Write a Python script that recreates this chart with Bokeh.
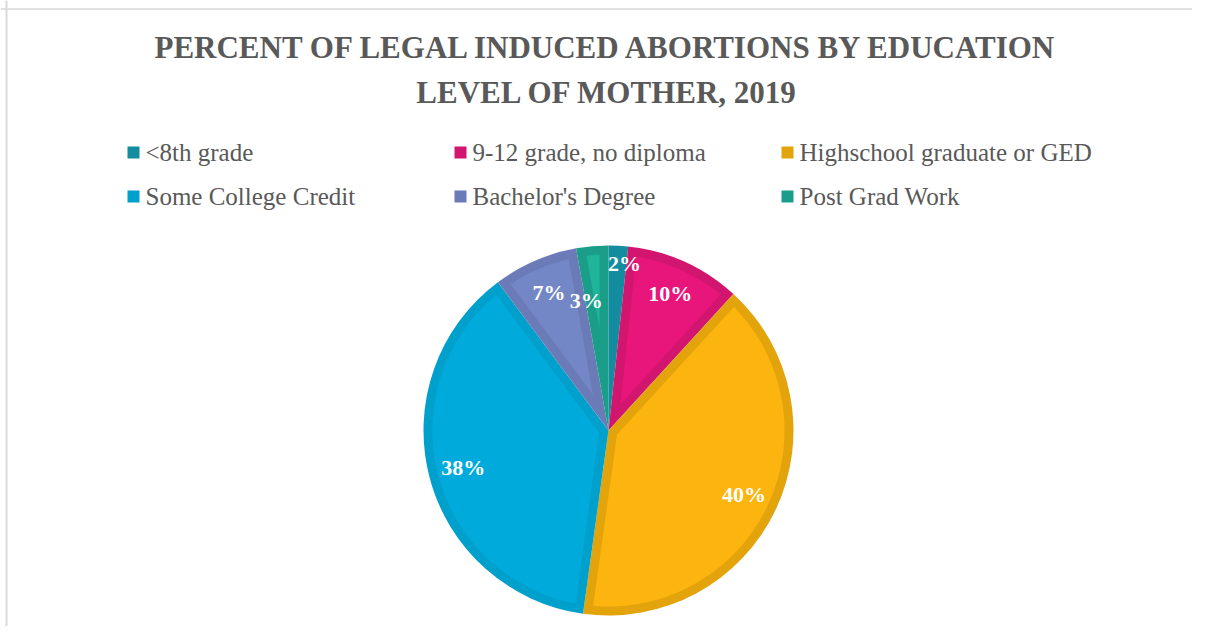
import numpy as np
from bokeh.plotting import figure
from bokeh.models import Range1d, Span, ColumnDataSource
from bokeh.core.properties import value
from bokeh.embed import file_html
from bokeh.resources import INLINE

# ---- data ----
categories = ["<8th grade", "9-12 grade, no diploma", "Highschool graduate or GED",
              "Some College Credit", "Bachelor's Degree", "Post Grad Work"]
values = [1.7, 10.1, 40.4, 37.6, 7.4, 2.8]
labels = ["2%", "10%", "40%", "38%", "7%", "3%"]

# ---- styles ----
fill_colors = ["#1699ad", "#e8157a", "#fcb40f", "#00abdb", "#7386c5", "#1fb59a"]
edge_colors = ["#138c9f", "#d2166f", "#e3a30b", "#00a0cc", "#6a7bb7", "#1a9e89"]
label_r_scale = [1.12, 1.0, 1.0, 1.0, 1.0, 0.88]
label_angle_shift_deg = [-2.4, 0, 0, 0, 0, 4.7]

W, H = 1192, 626
cx, cy, R = 608.0, H - 430.0, 185.0
band = 9.0
FONT = "Liberation Serif"

p = figure(width=W, height=H, x_range=Range1d(0, W), y_range=Range1d(0, H),
           x_axis_type=None, y_axis_type=None, output_backend="svg",
           toolbar_location=None, min_border=0)
p.grid.visible = False
p.outline_line_color = None
p.background_fill_color = "white"
p.border_fill_color = "white"

# chart border (top & left visible)
p.add_layout(Span(location=6.0, dimension="height", line_color="#d9d9d9", line_width=2))
p.add_layout(Span(location=H - 8.5, dimension="width", line_color="#d9d9d9", line_width=1.5))

vals = np.array(values, dtype=float)
frac = vals / vals.sum()
cum = np.cumsum(frac)
start_cw = cum - frac
a0 = np.pi / 2 - 2 * np.pi * cum        # ccw start
a1 = np.pi / 2 - 2 * np.pi * start_cw   # ccw end

# outer (edge-colour) wedges
src = ColumnDataSource(dict(a0=a0, a1=a1, fc=edge_colors))
p.wedge(x=cx, y=cy, radius=R, start_angle="a0", end_angle="a1",
        fill_color="fc", line_color=None, source=src)

# inner inset (fill colour)
xs, ys, fcs = [], [], []
rho = R - band
for i in range(len(vals)):
    th = a1[i] - a0[i]
    b = (a0[i] + a1[i]) / 2
    apex_d = band / np.sin(th / 2)
    if apex_d >= rho * 0.98:
        continue
    dl = np.arcsin(band / rho)
    arc = np.linspace(a0[i] + dl, a1[i] - dl, 80)
    px = [cx + apex_d * np.cos(b)] + list(cx + rho * np.cos(arc))
    py = [cy + apex_d * np.sin(b)] + list(cy + rho * np.sin(arc))
    xs.append(px); ys.append(py); fcs.append(fill_colors[i])
p.patches(xs="xs", ys="ys", fill_color="fc", line_color=None,
          source=ColumnDataSource(dict(xs=xs, ys=ys, fc=fcs)))

# data labels
mid = (a0 + a1) / 2 + np.radians(label_angle_shift_deg)
lr = R * 0.81 * np.array(label_r_scale)
p.text(x=cx + lr * np.cos(mid), y=cy + lr * np.sin(mid), text=labels,
       text_color="white", text_font=value(FONT), text_font_style="bold",
       text_font_size="22px", text_align="center", text_baseline="middle")

# title
p.text(x=[607], y=[H - 69.5], text=["PERCENT OF LEGAL INDUCED ABORTIONS BY EDUCATION\nLEVEL OF MOTHER, 2019"],
       text_color="#595959", text_font=value(FONT), text_font_style="bold",
       text_font_size="31px", text_align="center", text_baseline="middle",
       text_line_height=1.3)

# legend (manual, 3 columns x 2 rows)
col_x = [133, 460, 787]
row_y = [H - 152, H - 196]
lx = [col_x[i % 3] for i in range(len(categories))]
ly = [row_y[i // 3] for i in range(len(categories))]
p.scatter(x=lx, y=ly, marker="square", size=12, fill_color=edge_colors, line_color=None)
p.text(x=[v + 12 for v in lx], y=ly, text=categories, text_color="#595959",
       text_font=value(FONT), text_font_size="25px", text_align="left",
       text_baseline="middle")

open("out.html", "w").write(file_html(p, INLINE))
